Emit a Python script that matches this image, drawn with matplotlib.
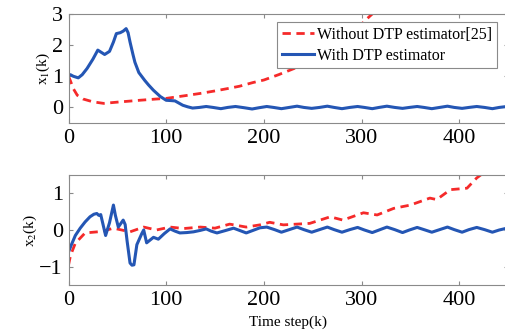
import matplotlib
matplotlib.use("Agg")
import matplotlib.pyplot as plt

plt.rcParams['font.family'] = ['Liberation Serif', 'DejaVu Serif']
plt.rcParams['mathtext.fontset'] = 'stix'

# x1(k) with DTP estimator
k1_blue = [0, 2, 5, 10, 14, 19, 25, 30, 34, 37, 42, 46, 49, 53, 56, 59, 61, 63, 66,
           68, 72, 78, 82, 87, 94, 100, 105, 109, 113, 117, 122, 127, 134, 141, 148,
           156, 163, 171, 180, 188, 195, 203, 210, 218, 226, 234, 241, 249, 257,
           265, 272, 280, 288, 296, 303, 311, 318, 326, 334, 342, 349, 357, 364,
           372, 380, 388, 395, 403, 410, 418, 426, 434, 441, 449]
x1_blue = [1.03, 1.05, 1.0, 0.95, 1.05, 1.25, 1.55, 1.84, 1.76, 1.7, 1.8, 2.1, 2.37,
           2.4, 2.45, 2.53, 2.4, 2.1, 1.7, 1.45, 1.12, 0.87, 0.72, 0.55, 0.35, 0.23,
           0.22, 0.21, 0.14, 0.07, 0.02, -0.02, 0.0, 0.03, 0.0, -0.04, 0.0, 0.03,
           -0.01, -0.05, -0.01, 0.03, 0.0, -0.04, 0.0, 0.04, 0.0, -0.03, 0.0, 0.04,
           0.0, -0.04, 0.0, 0.03, 0.0, -0.04, 0.0, 0.04, 0.0, -0.03, 0.0, 0.03, 0.0,
           -0.04, 0.0, 0.04, 0.0, -0.03, 0.0, 0.03, 0.0, -0.04, 0.0, 0.03]

# x1(k) without DTP estimator [25]
k1_red = [0, 2, 5, 9, 15, 25, 36, 50, 73, 90, 100, 120, 135, 150, 162, 175, 189,
          200, 215, 235, 250, 265, 280, 292, 304, 312, 320]
x1_red = [1.0, 0.85, 0.6, 0.39, 0.27, 0.18, 0.13, 0.17, 0.23, 0.27, 0.29, 0.38, 0.45,
          0.53, 0.6, 0.68, 0.8, 0.88, 1.05, 1.3, 1.55, 1.82, 2.1, 2.4, 2.8, 3.03, 3.3]

# x2(k) with DTP estimator
k2_blue = [0, 3, 7, 12, 17, 22, 26, 29, 31, 33, 38, 42, 46, 48, 51, 56, 58, 60, 63,
           65, 67, 70, 75, 77, 80, 87, 92, 98, 104, 109, 114, 121, 128, 135, 141,
           146, 152, 160, 169, 175, 182, 188, 196, 203, 211, 218, 226, 234, 241,
           249, 257, 265, 272, 280, 288, 296, 303, 311, 318, 326, 334, 342, 349,
           357, 364, 372, 380, 388, 395, 403, 410, 418, 426, 434, 441, 449]
x2_blue = [-0.6, -0.4, -0.15, 0.05, 0.22, 0.36, 0.43, 0.45, 0.4, 0.42, -0.15, 0.2,
           0.68, 0.4, 0.08, 0.27, 0.15, -0.3, -0.9, -0.96, -0.95, -0.4, -0.1, 0.0,
           -0.35, -0.2, -0.25, -0.1, 0.03, -0.03, -0.08, -0.07, -0.05, -0.01, 0.03,
           -0.03, -0.08, -0.02, 0.05, -0.01, -0.08, -0.02, 0.06, 0.08, 0.01, -0.06,
           0.01, 0.08, 0.01, -0.06, 0.01, 0.08, 0.01, -0.06, 0.01, 0.07, 0.0, -0.07,
           0.0, 0.08, 0.01, -0.07, 0.0, 0.07, 0.01, -0.06, 0.01, 0.08, 0.01, -0.06,
           0.01, 0.07, 0.01, -0.06, 0.0, 0.05]

# x2(k) without DTP estimator [25]
k2_red = [0, 2, 7, 17, 34, 46, 63, 77, 90, 104, 118, 135, 150, 165, 182, 196, 206,
          220, 247, 268, 281, 302, 316, 333, 350, 370, 377, 391, 408, 418, 425, 432]
x2_red = [-0.96, -0.7, -0.36, -0.08, -0.04, 0.05, -0.05, 0.08, 0.0, 0.08, 0.04, 0.08,
          0.05, 0.16, 0.08, 0.14, 0.21, 0.14, 0.18, 0.36, 0.27, 0.47, 0.41, 0.59, 0.68,
          0.87, 0.83, 1.1, 1.14, 1.42, 1.56, 1.7]

blue = '#2456b4'
red = '#f52a2a'
grey = '#8a8a8a'

fig = plt.figure(figsize=(5.05, 3.35), dpi=100)
ax1 = fig.add_axes([68.5 / 505, 1 - 123 / 335, (508 - 68.5) / 505, 109 / 335])
ax2 = fig.add_axes([68.5 / 505, 1 - 285 / 335, (508 - 68.5) / 505, 110 / 335])

ax1.plot(k1_red, x1_red, '--', color=red, lw=2, dashes=(3, 2),
         label='Without DTP estimator[25]')
ax1.plot(k1_blue, x1_blue, '-', color=blue, lw=2.2, label='With DTP estimator')
ax2.plot(k2_red, x2_red, '--', color=red, lw=2, dashes=(3, 2))
ax2.plot(k2_blue, x2_blue, '-', color=blue, lw=2.2)

ax1.set_ylim(-0.5, 3)
ax1.set_yticks([0, 1, 2, 3])
ax2.set_ylim(-1.5, 1.5)
ax2.set_yticks([-1, 0, 1])

for ax in (ax1, ax2):
    ax.set_xlim(0, 450)
    ax.set_xticks([0, 100, 200, 300, 400])
    ax.tick_params(direction='in', top=True, right=True, length=3, color=grey,
                   labelsize=16, pad=4)
    for s in ax.spines.values():
        s.set_color(grey)
        s.set_linewidth(0.8)

ax1.set_ylabel('x$_1$(k)', fontsize=11, labelpad=0)
ax2.set_ylabel('x$_2$(k)', fontsize=11, labelpad=0)
ax2.set_xlabel('Time step(k)', fontsize=11, labelpad=4)

leg = ax1.legend(loc='upper right', bbox_to_anchor=(497 / 505, 1 - 22 / 335),
                 bbox_transform=fig.transFigure, fontsize=11.5, frameon=True,
                 fancybox=False, framealpha=1, edgecolor=grey, handlelength=2.0,
                 handletextpad=0.2, borderpad=0.3, labelspacing=0.3,
                 borderaxespad=0)
leg.get_frame().set_linewidth(0.8)

fig.savefig('out.png', dpi=100)
